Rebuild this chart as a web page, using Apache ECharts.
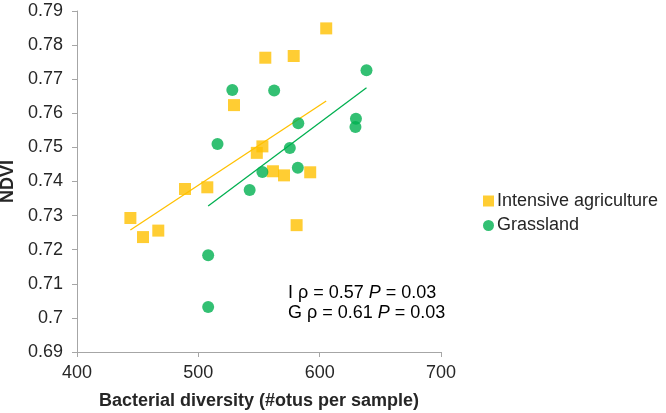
<!DOCTYPE html>
<html><head><meta charset="utf-8">
<script src="https://cdn.jsdelivr.net/npm/echarts@6/dist/echarts.min.js"></script>
<style>html,body{margin:0;padding:0;background:#fff}#c{width:666px;height:413px}</style>
</head><body><div id="c"></div>
<script>
// Intensive agriculture: [bacterial diversity, NDVI]
const agriX = [444, 454.4, 467, 489, 507.4, 529.4, 548.2, 552.8, 555.2, 561.5, 570.6, 578.6, 581, 592.2, 605.4];
const agriY = [0.7293, 0.7237, 0.7256, 0.7378, 0.7383, 0.7624, 0.7484, 0.7503, 0.7763, 0.7430, 0.7418, 0.7768, 0.7272, 0.7427, 0.7849];
// Grassland
const grassX = [528, 562.5, 638.6, 582.4, 629.9, 629.5, 515.8, 575.4, 552.8, 582, 542.3, 508.1, 508.1];
const grassY = [0.7668, 0.7667, 0.7726, 0.7571, 0.7584, 0.7560, 0.7510, 0.7498, 0.7428, 0.7440, 0.7375, 0.7184, 0.7032];
// Trend lines (endpoints)
const agriTrendX = [444, 605.4];
const agriTrendY = [0.7258, 0.7636];
const grassTrendX = [508.1, 638.6];
const grassTrendY = [0.7328, 0.7675];
const seriesNames = ['Intensive agriculture', 'Grassland'];
const annotationLines = [['I', '0.57', '0.03'], ['G', '0.61', '0.03']];

const zip = (xs, ys) => xs.map((x, i) => [x, ys[i]]);
const ORANGE = '#FFC000', GREEN = '#00B050';
const FONT = '"Liberation Sans", Arial, sans-serif';
const TXT = '#262626';

const chart = echarts.init(document.getElementById('c'), null, {renderer: 'canvas'});
chart.setOption({
  animation: false,
  backgroundColor: '#fff',
  grid: {left: 77, right: 225, top: 11, bottom: 61, containLabel: false, outerBoundsMode: 'none'},
  xAxis: {
    type: 'value', min: 400, max: 700, interval: 100,
    name: 'Bacterial diversity (#otus per sample)', nameLocation: 'middle', nameGap: 40,
    nameTextStyle: {fontFamily: FONT, fontWeight: 'bold', fontSize: 18, color: TXT},
    axisLine: {lineStyle: {color: '#a6a6a6', width: 1}},
    axisTick: {show: true, length: 5, lineStyle: {color: '#a6a6a6'}},
    axisLabel: {fontFamily: FONT, fontSize: 18, color: TXT, margin: 12},
    splitLine: {show: false}
  },
  yAxis: {
    type: 'value', min: 0.69, max: 0.79, interval: 0.01,
    name: 'NDVI', nameLocation: 'middle', nameGap: 55, nameRotate: 90,
    nameTextStyle: {fontFamily: FONT, fontWeight: 'bold', fontSize: 18, color: TXT},
    axisLine: {show: true, lineStyle: {color: '#a6a6a6', width: 1}},
    axisTick: {show: true, length: 5, lineStyle: {color: '#a6a6a6'}},
    axisLabel: {fontFamily: FONT, fontSize: 18, color: TXT, margin: 14,
      formatter: v => String(parseFloat(v.toFixed(2)))},
    splitLine: {show: false}
  },
  legend: {
    orient: 'vertical', left: 478, top: 187, itemGap: 6.5,
    itemWidth: 11, itemHeight: 11,
    data: [{name: seriesNames[0], icon: 'rect'}, {name: seriesNames[1], icon: 'circle'}],
    textStyle: {fontFamily: FONT, fontSize: 18, lineHeight: 18, color: TXT, padding: [0, 0, 0, -2]}
  },
  graphic: [{
    type: 'text', left: 288, top: 284,
    style: {
      text: annotationLines.map(l => `{n|${l[0]} ρ = ${l[1]} }{i|P}{n| = ${l[2]}}`).join('\n'),
      rich: {
        n: {fontFamily: FONT, fontSize: 18, color: TXT, lineHeight: 20},
        i: {fontFamily: FONT, fontSize: 18, fontStyle: 'italic', color: TXT, lineHeight: 20}
      }
    }
  }],
  series: [
    {name: seriesNames[0], type: 'scatter', symbol: 'rect', symbolSize: 12,
      itemStyle: {color: ORANGE}, data: zip(agriX, agriY), z: 3},
    {name: seriesNames[1], type: 'scatter', symbol: 'circle', symbolSize: 12,
      itemStyle: {color: GREEN}, data: zip(grassX, grassY), z: 4},
    {name: 'agriTrend', type: 'line', data: zip(agriTrendX, agriTrendY), showSymbol: false, symbol: 'none',
      lineStyle: {color: ORANGE, width: 1.3}, z: 2, silent: true},
    {name: 'grassTrend', type: 'line', data: zip(grassTrendX, grassTrendY), showSymbol: false, symbol: 'none',
      lineStyle: {color: GREEN, width: 1.3}, z: 2, silent: true}
  ]
});
</script></body></html>
